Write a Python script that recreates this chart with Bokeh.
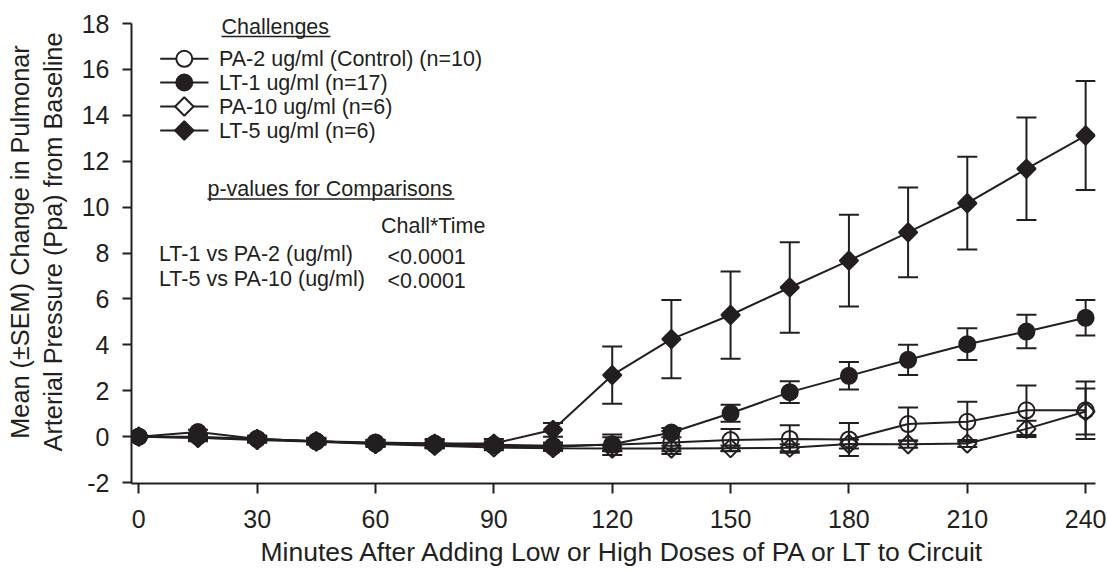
import math
from bokeh.plotting import figure
from bokeh.models import (Range1d, FixedTicker, Label, Whisker, TeeHead, ColumnDataSource, Title)
from bokeh.embed import file_html
from bokeh.resources import INLINE

# ---------------- data ----------------
minutes = [0, 15, 30, 45, 60, 75, 90, 105, 120, 135, 150, 165, 180, 195, 210, 225, 240]

pa2_mean = [0, 0.0, -0.1, -0.2, -0.25, -0.3, -0.35, -0.4, -0.35, -0.25, -0.15, -0.1, -0.12, 0.55, 0.65, 1.15, 1.15]
pa2_sem = [0, 0.1, 0.1, 0.12, 0.12, 0.15, 0.15, 0.15, 0.45, 0.5, 0.48, 0.6, 0.72, 0.72, 0.87, 1.08, 1.25]

lt1_mean = [0, 0.2, -0.1, -0.2, -0.3, -0.35, -0.4, -0.45, -0.33, 0.18, 1.02, 1.94, 2.65, 3.35, 4.03, 4.58, 5.18]
lt1_sem = [0, 0.1, 0.1, 0.1, 0.1, 0.12, 0.12, 0.12, 0.3, 0.2, 0.37, 0.47, 0.6, 0.66, 0.69, 0.73, 0.77]

pa10_mean = [0, -0.05, -0.15, -0.22, -0.32, -0.4, -0.47, -0.5, -0.52, -0.52, -0.5, -0.48, -0.32, -0.33, -0.3, 0.34, 1.1]
pa10_sem = [0, 0.1, 0.1, 0.1, 0.1, 0.1, 0.12, 0.12, 0.1, 0.12, 0.12, 0.15, 0.2, 0.15, 0.15, 0.35, 1.0]

lt5_mean = [0, -0.05, -0.1, -0.2, -0.3, -0.3, -0.3, 0.3, 2.68, 4.25, 5.3, 6.5, 7.67, 8.9, 10.17, 11.67, 13.12]
lt5_sem = [0, 0.15, 0.15, 0.15, 0.15, 0.2, 0.2, 0.3, 1.25, 1.7, 1.9, 1.97, 2.0, 1.95, 2.02, 2.23, 2.37]

series_labels = ["PA-2 ug/ml (Control) (n=10)", "LT-1 ug/ml  (n=17)", "PA-10 ug/ml (n=6)", "LT-5 ug/ml (n=6)"]
x_ticks = [0, 30, 60, 90, 120, 150, 180, 210, 240]
y_ticks = [-2, 0, 2, 4, 6, 8, 10, 12, 14, 16, 18]

x_title = "Minutes After Adding Low or High Doses of PA or LT to Circuit"
y_title_1 = "Mean (\u00b1SEM) Change in Pulmonar"
y_title_2 = "Arterial Pressure (Ppa) from Baseline"
legend_title = "Challenges"
pv_title = "p-values for Comparisons"
pv_header = "Chall*Time"
pv_rows = ["LT-1 vs PA-2 (ug/ml)", "LT-5 vs PA-10 (ug/ml)"]
pv_values = ["<0.0001", "<0.0001"]

# ---------------- layout ----------------
W, H = 1107, 572
LEFT, RIGHT, TOP, BOTTOM = 131, 12, 0, 89
X0, X1 = -1.85, 242.5
Y0, Y_AXIS_TOP = -2.04, 18.0
PX_PER_UNIT = 22.95
Y1 = Y_AXIS_TOP + 23 / PX_PER_UNIT
FW = W - LEFT - RIGHT
FH = H - TOP - BOTTOM

def sx(px):
    return X0 + (px - LEFT) * (X1 - X0) / FW

def sy(py):
    return Y1 - (py - TOP) * (Y1 - Y0) / FH

INK = "#231f20"
FONT = "Liberation Sans"

p = figure(width=W, height=H, x_range=Range1d(X0, X1), y_range=Range1d(Y0, Y1),
           output_backend="svg", toolbar_location=None,
           min_border_left=LEFT, min_border_right=RIGHT,
           min_border_top=TOP, min_border_bottom=BOTTOM)
p.outline_line_color = None
p.xgrid.grid_line_color = None
p.ygrid.grid_line_color = None
p.background_fill_color = "white"
p.border_fill_color = "white"

p.xaxis.ticker = FixedTicker(ticks=x_ticks)
p.yaxis.ticker = FixedTicker(ticks=y_ticks)
p.yaxis.bounds = (Y0, Y_AXIS_TOP)
p.yaxis.major_label_overrides = {-2: "-2"}
for ax, tout, stand in ((p.xaxis, 10, 16), (p.yaxis, 9, 13)):
    ax.axis_line_width = 2
    ax.axis_line_color = INK
    ax.major_tick_line_width = 2
    ax.major_tick_line_color = INK
    ax.major_tick_out = tout
    ax.major_tick_in = 0
    ax.minor_tick_out = 0
    ax.minor_tick_in = 0
    ax.major_label_text_font = FONT
    ax.major_label_text_font_size = "25px"
    ax.major_label_text_color = INK
    ax.major_label_standoff = stand

p.yaxis.axis_label = y_title_1 + "\n" + y_title_2
p.yaxis.axis_label_text_font = FONT
p.yaxis.axis_label_text_font_size = "25.3px"
p.yaxis.axis_label_text_font_style = "normal"
p.yaxis.axis_label_text_color = INK
p.yaxis.axis_label_standoff = 12
p.yaxis.axis_label_text_line_height = 1.18

xt = Title(text=x_title, align="left", offset=129, text_font=FONT, text_font_size="26.5px",
           text_font_style="normal", text_color=INK, standoff=9)
p.add_layout(xt, "below")

# ---------------- series ----------------
series = [
    (pa2_mean, pa2_sem, "circle", False, 16),
    (pa10_mean, pa10_sem, "square", False, 13),
    (lt1_mean, lt1_sem, "circle", True, 16),
    (lt5_mean, lt5_sem, "square", True, 13),
]

for mean, sem, marker, filled, size in series:
    p.line(minutes, mean, line_color=INK, line_width=2)

for mean, sem, marker, filled, size in series:
    idx = [i for i, s in enumerate(sem) if s > 0]
    src = ColumnDataSource(dict(
        x=[minutes[i] for i in idx],
        upper=[mean[i] + sem[i] for i in idx],
        lower=[mean[i] - sem[i] for i in idx]))
    w = Whisker(source=src, base="x", upper="upper", lower="lower", dimension="height",
                line_color=INK, line_width=2,
                upper_head=TeeHead(size=20, line_width=2, line_color=INK),
                lower_head=TeeHead(size=20, line_width=2, line_color=INK))
    p.add_layout(w)
    p.scatter(minutes, mean, marker=marker, size=size,
              angle=(math.pi / 4 if marker == "square" else 0),
              fill_color=(INK if filled else None), line_color=INK, line_width=2)

# ---------------- legend (manual) ----------------
order = [0, 2, 1, 3]  # PA-2, LT-1, PA-10, LT-5 rows
row_y = [58.3, 82.0, 106.0, 130.0]
for r, si in enumerate(order):
    mean, sem, marker, filled, size = series[si]
    yy = sy(row_y[r])
    p.segment(x0=[sx(159.7)], y0=[yy], x1=[sx(208)], y1=[yy], line_color=INK, line_width=2)
    p.scatter([sx(183.8)], [yy], marker=marker, size=size,
              angle=(math.pi / 4 if marker == "square" else 0),
              fill_color=(INK if filled else "white"), line_color=INK, line_width=2)
    p.add_layout(Label(x=sx(218.5), y=yy, text=series_labels[r], text_font=FONT,
                       text_font_size="21.5px", text_color=INK,
                       text_baseline="middle", text_align="left"))

p.add_layout(Label(x=sx(221), y=sy(26.5), text=legend_title, text_font=FONT,
                   text_font_size="21.5px", text_color=INK,
                   text_baseline="middle", text_align="left"))
p.segment(x0=[sx(221)], y0=[sy(36)], x1=[sx(330)], y1=[sy(36)], line_color=INK, line_width=1.5)

p.add_layout(Label(x=sx(207), y=sy(188), text=pv_title, text_font=FONT,
                   text_font_size="21.5px", text_color=INK,
                   text_baseline="middle", text_align="left"))
p.segment(x0=[sx(207)], y0=[sy(198.5)], x1=[sx(454)], y1=[sy(198.5)], line_color=INK, line_width=1.5)

p.add_layout(Label(x=sx(380.5), y=sy(225), text=pv_header, text_font=FONT,
                   text_font_size="21.5px", text_color=INK,
                   text_baseline="middle", text_align="left"))
for i, (rt, pv) in enumerate(zip(pv_rows, pv_values)):
    p.add_layout(Label(x=sx(158.5), y=sy(253 + 25 * i), text=rt, text_font=FONT,
                       text_font_size="21.5px", text_color=INK,
                       text_baseline="middle", text_align="left"))
    p.add_layout(Label(x=sx(387), y=sy(256.5 + 24 * i), text=pv, text_font=FONT,
                       text_font_size="21.5px", text_color=INK,
                       text_baseline="middle", text_align="left"))

open("out.html", "w").write(file_html(p, INLINE))
